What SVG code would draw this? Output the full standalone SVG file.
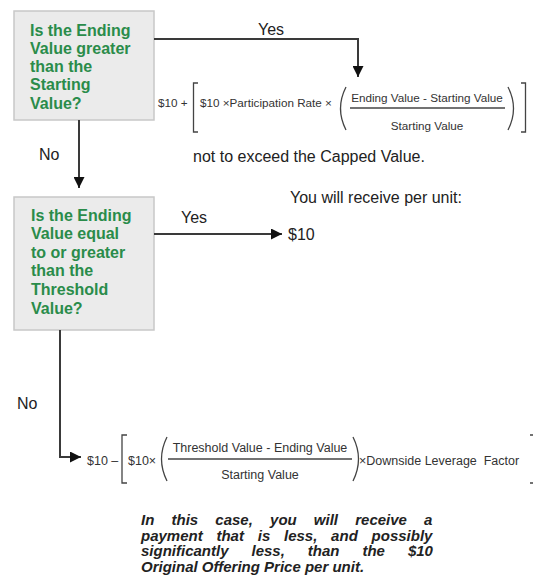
<svg xmlns="http://www.w3.org/2000/svg" width="533" height="584" viewBox="0 0 533 584">
<defs>
<style>
.box{fill:#ebebeb;stroke:#c8c8c8;stroke-width:1.5}
.q{font-family:"Liberation Sans",Arial,sans-serif;font-weight:bold;font-size:16px;fill:#2a8c4a}
.lbl{font-family:"Liberation Sans",Arial,sans-serif;font-size:16px;fill:#222}
.f1{font-family:"Liberation Sans",Arial,sans-serif;font-size:11.7px;fill:#333}
.f2{font-family:"Liberation Sans",Arial,sans-serif;font-size:12.5px;fill:#333}
.br{fill:none;stroke:#444;stroke-width:1.3}
.conn{fill:none;stroke:#3a3a3a;stroke-width:2}
.note{font-family:"Liberation Sans",Arial,sans-serif;font-weight:bold;font-style:italic;font-size:15px;fill:#222}
</style>
<marker id="arr" viewBox="0 0 10 10" refX="10" refY="5" markerUnits="userSpaceOnUse" markerWidth="11" markerHeight="11" orient="auto">
<path d="M0,0 L10,5 L0,10 z" fill="#111"/>
</marker>
</defs>
<rect width="533" height="584" fill="#fff"/>

<g id="q1">
<rect class="box" x="14" y="11" width="140" height="109"/>
<text class="q" x="30" y="35.5">Is the Ending</text>
<text class="q" x="30" y="53.8">Value greater</text>
<text class="q" x="30" y="72.1">than the</text>
<text class="q" x="30" y="90.4">Starting</text>
<text class="q" x="30" y="108.7">Value?</text>
</g>

<g id="q2">
<rect class="box" x="14" y="197" width="140" height="133"/>
<text class="q" x="31" y="220.5">Is the Ending</text>
<text class="q" x="31" y="239.1">Value equal</text>
<text class="q" x="31" y="257.7">to or greater</text>
<text class="q" x="31" y="276.3">than the</text>
<text class="q" x="31" y="294.9">Threshold</text>
<text class="q" x="31" y="313.5">Value?</text>
</g>

<g id="connectors">
<path class="conn" d="M154,39 H358 V77" marker-end="url(#arr)"/>
<path class="conn" d="M79,120 V188" marker-end="url(#arr)"/>
<path class="conn" d="M154,234 H282" marker-end="url(#arr)"/>
<path class="conn" d="M60,330 V457 H81" marker-end="url(#arr)"/>
<text class="lbl" x="271" y="35" text-anchor="middle">Yes</text>
<text class="lbl" x="39" y="160">No</text>
<text class="lbl" x="194" y="223" text-anchor="middle">Yes</text>
<text class="lbl" x="17" y="409">No</text>
</g>

<g id="result-up">
<text class="f1" x="158" y="107">$10 +</text>
<path class="br" d="M198,83 H193.5 V132 H198"/>
<text class="f1" x="200" y="107">$10 ×Participation Rate ×</text>
<path class="br" d="M346,87 Q335,108.5 346,130"/>
<text class="f1" x="427" y="102" text-anchor="middle">Ending Value - Starting Value</text>
<line class="br" x1="350" y1="108" x2="505" y2="108"/>
<text class="f1" x="427" y="130" text-anchor="middle">Starting Value</text>
<path class="br" d="M508,87 Q519,108.5 508,130"/>
<path class="br" d="M521,83 H525.5 V132 H521"/>
<text class="lbl" x="193" y="162">not to exceed the Capped Value.</text>
</g>

<g id="result-flat">
<text class="lbl" x="290" y="203">You will receive per unit:</text>
<text class="lbl" x="288" y="240">$10</text>
</g>

<g id="result-down">
<text class="f2" x="87" y="465">$10 –</text>
<path class="br" d="M127,435 H122 V483 H127"/>
<text class="f2" x="128" y="465">$10×</text>
<path class="br" d="M167,437 Q156,459 167,481"/>
<text class="f2" x="260" y="452" text-anchor="middle">Threshold Value - Ending Value</text>
<line class="br" x1="168" y1="459" x2="352" y2="459"/>
<text class="f2" x="260" y="479" text-anchor="middle">Starting Value</text>
<path class="br" d="M353,437 Q364,459 353,481"/>
<text class="f2" x="359" y="465" style="white-space:pre">×Downside Leverage  Factor</text>
<path class="br" d="M530,435 H535 V483 H530"/>
</g>

<g id="note">
<text class="note" x="141" y="525" word-spacing="13">In this case, you will receive a</text>
<text class="note" x="141" y="540.5" word-spacing="9.6">payment that is less, and possibly</text>
<text class="note" x="141" y="556" word-spacing="18.8">significantly less, than the $10</text>
<text class="note" x="141" y="571.5">Original Offering Price per unit.</text>
</g>
</svg>
